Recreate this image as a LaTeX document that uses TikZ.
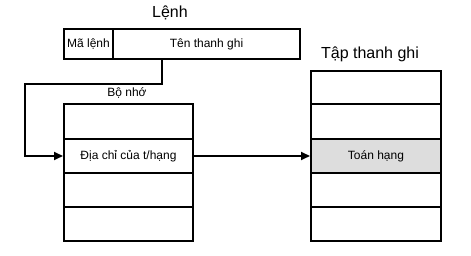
\documentclass[tikz,border=0pt]{standalone}
\usepackage{fontspec}
\setmainfont{Liberation Sans}
\usetikzlibrary{arrows.meta}
\begin{document}
\begin{tikzpicture}[x=1pt,y=-1pt,
  cell/.style={draw=black,line width=2pt,minimum width=#1,minimum height=34pt,inner sep=0pt,anchor=north west,font=\fontsize{12}{14}\selectfont},
  small/.style={font=\fontsize{12}{14}\selectfont,inner sep=0pt},
  big/.style={font=\fontsize{16}{19}\selectfont,inner sep=0pt},
  conn/.style={line width=2pt,-{Triangle[length=9pt,width=8pt]}}]
\useasboundingbox (0,0) rectangle (471,256);
% instruction
\node[big] (title) at (170,13) {Lệnh};
\node[cell=49pt,minimum height=30pt] (op) at (63,28) {Mã lệnh};
\node[cell=187pt,minimum height=30pt] (reg) at (112,28) {Tên thanh ghi};
% memory
\node[small] (memlbl) at (127,93) {Bộ nhớ};
\node[cell=129pt,minimum height=35pt] (m1) at (63,103) {};
\node[cell=129pt] (m2) at (63,138) {Địa chỉ của t/hạng};
\node[cell=129pt] (m3) at (63,172) {};
\node[cell=129pt] (m4) at (63,206) {};
% register set
\node[big] (rlbl) at (370,54) {Tập thanh ghi};
\node[cell=130pt,minimum height=33pt] (r1) at (310,70) {};
\node[cell=130pt,minimum height=35pt] (r2) at (310,103) {};
\node[cell=130pt,fill={rgb,255:red,221;green,221;blue,221}] (r3) at (310,138) {Toán hạng};
\node[cell=130pt] (r4) at (310,172) {};
\node[cell=130pt] (r5) at (310,206) {};
% connectors
\coordinate (c2) at (25,84);
\draw[conn] ([xshift=50pt]reg.south west) |- (c2) |- (m2.west);
\draw[conn] (m2.east) -- (r3.west);
\end{tikzpicture}
\end{document}
